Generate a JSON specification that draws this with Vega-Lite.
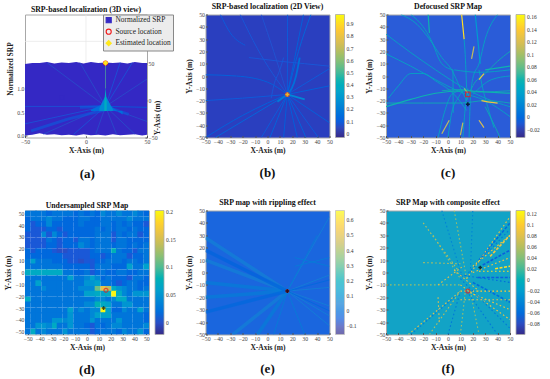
{"$schema":"https://vega.github.io/schema/vega-lite/v6.json","padding":{"left":4,"top":2.5,"right":0,"bottom":0},"background":"white",
"config":{"font":"Liberation Serif","view":{"stroke":"#a8a8a8","strokeWidth":1},
"axis":{"domain":false,"grid":false,"labelFontSize":5.8,"labelColor":"#444","titleFontSize":7.5,"titleFontWeight":"bold","titleColor":"#222","tickColor":"#555","tickSize":-2,"labelPadding":3,"titlePadding":2,"labelOverlap":false,"labelFlush":false},
"legend":{"gradientLength":123,"gradientThickness":9,"padding":0,"offset":6,"labelFontSize":5.5,"labelColor":"#333","gradientStrokeColor":"#aaa","gradientStrokeWidth":0.8,"labelOverlap":false,"labelOffset":2},
"title":{"fontSize":7.8,"fontWeight":"bold","offset":0.5,"color":"#111","anchor":"middle"}},
"datasets":{
"bl":[{"id":1,"v":0.14,"x":-42,"y":-50},{"id":1,"v":0.14,"x":16,"y":-15},{"id":2,"v":0.1,"x":-5,"y":-50},{"id":2,"v":0.1,"x":16,"y":-15},{"id":3,"v":0.13,"x":2,"y":-50},{"id":3,"v":0.13,"x":10,"y":-30},{"id":3,"v":0.13,"x":16,"y":-15},{"id":4,"v":0.11,"x":13,"y":-50},{"id":4,"v":0.11,"x":16,"y":-15},{"id":5,"v":0.11,"x":16,"y":-15},{"id":5,"v":0.11,"x":24,"y":-50},{"id":6,"v":0.13,"x":16,"y":-15},{"id":6,"v":0.13,"x":31,"y":-50},{"id":7,"v":0.1,"x":16,"y":-15},{"id":7,"v":0.1,"x":41,"y":-50},{"id":8,"v":0.12,"x":16,"y":-15},{"id":8,"v":0.12,"x":50,"y":-38},{"id":9,"v":0.12,"x":16,"y":-15},{"id":9,"v":0.12,"x":50,"y":-8},{"id":10,"v":0.1,"x":16,"y":-15},{"id":10,"v":0.1,"x":50,"y":6},{"id":11,"v":0.14,"x":16,"y":-15},{"id":11,"v":0.14,"x":25,"y":20},{"id":11,"v":0.14,"x":35,"y":50},{"id":12,"v":0.12,"x":16,"y":-15},{"id":12,"v":0.12,"x":22,"y":15},{"id":12,"v":0.12,"x":29,"y":50},{"id":13,"v":0.1,"x":16,"y":-15},{"id":13,"v":0.1,"x":16.2,"y":50},{"id":14,"v":0.1,"x":-38,"y":50},{"id":14,"v":0.1,"x":-30,"y":35},{"id":14,"v":0.1,"x":-18,"y":25},{"id":15,"v":0.12,"x":-50,"y":1},{"id":15,"v":0.12,"x":-25,"y":0},{"id":15,"v":0.12,"x":0,"y":-5},{"id":15,"v":0.12,"x":16,"y":-15},{"id":16,"v":0.09,"x":-15,"y":15},{"id":16,"v":0.09,"x":10,"y":12},{"id":16,"v":0.09,"x":30,"y":10},{"id":16,"v":0.09,"x":50,"y":8},{"id":17,"v":0.12,"x":-50,"y":-50},{"id":17,"v":0.12,"x":-20,"y":-32},{"id":17,"v":0.12,"x":0,"y":-22},{"id":17,"v":0.12,"x":16,"y":-15},{"id":18,"v":0.09,"x":3,"y":-18},{"id":18,"v":0.09,"x":5,"y":-8},{"id":18,"v":0.09,"x":10,"y":5},{"id":18,"v":0.09,"x":13,"y":15},{"id":19,"v":0.08,"x":-5,"y":50},{"id":19,"v":0.08,"x":5,"y":20},{"id":19,"v":0.08,"x":16,"y":-15},{"id":20,"v":0.09,"x":-22,"y":50},{"id":20,"v":0.09,"x":-8,"y":22},{"id":20,"v":0.09,"x":16,"y":-15},{"id":21,"v":0.1,"x":-50,"y":-20},{"id":21,"v":0.1,"x":-20,"y":-18},{"id":21,"v":0.1,"x":16,"y":-15},{"id":100,"v":0.24,"x":16,"y":-15},{"id":100,"v":0.24,"x":30,"y":-19},{"id":100,"v":0.2,"x":50,"y":-18},{"id":101,"v":0.2,"x":8,"y":-21},{"id":101,"v":0.2,"x":16,"y":-15},{"id":102,"v":0.16,"x":16,"y":-15},{"id":102,"v":0.16,"x":23,"y":0},{"id":102,"v":0.16,"x":26,"y":15}],
"cl":[{"id":1,"v":0.05,"x":-50,"y":34},{"id":1,"v":0.05,"x":-30,"y":19},{"id":1,"v":0.05,"x":-10,"y":5},{"id":1,"v":0.05,"x":10,"y":-8},{"id":1,"v":0.05,"x":30,"y":-18},{"id":1,"v":0.05,"x":50,"y":-25},{"id":2,"v":0.05,"x":-50,"y":18},{"id":2,"v":0.05,"x":-30,"y":8},{"id":2,"v":0.05,"x":-10,"y":-3},{"id":2,"v":0.05,"x":10,"y":-13},{"id":2,"v":0.05,"x":30,"y":-20},{"id":2,"v":0.05,"x":50,"y":-33},{"id":3,"v":0.05,"x":-48,"y":-18},{"id":3,"v":0.05,"x":-40,"y":-8},{"id":3,"v":0.05,"x":-30,"y":2},{"id":3,"v":0.05,"x":-20,"y":2},{"id":3,"v":0.05,"x":-10,"y":-4},{"id":3,"v":0.05,"x":5,"y":-15},{"id":3,"v":0.05,"x":15,"y":-28},{"id":4,"v":0.05,"x":-38,"y":50},{"id":4,"v":0.05,"x":-25,"y":42},{"id":4,"v":0.05,"x":-15,"y":30},{"id":4,"v":0.05,"x":-5,"y":15},{"id":4,"v":0.05,"x":3,"y":5},{"id":4,"v":0.05,"x":10,"y":-10},{"id":4,"v":0.05,"x":15,"y":-20},{"id":5,"v":0.06,"x":-50,"y":-22},{"id":5,"v":0.06,"x":-20,"y":-22},{"id":5,"v":0.06,"x":10,"y":-22},{"id":5,"v":0.06,"x":30,"y":-20},{"id":5,"v":0.06,"x":50,"y":-22},{"id":6,"v":0.06,"x":-5,"y":-12},{"id":6,"v":0.06,"x":10,"y":-11},{"id":6,"v":0.06,"x":25,"y":-13},{"id":6,"v":0.06,"x":50,"y":-12},{"id":7,"v":0.06,"x":15,"y":-20},{"id":7,"v":0.06,"x":20,"y":-8},{"id":7,"v":0.06,"x":30,"y":2},{"id":7,"v":0.06,"x":40,"y":12},{"id":7,"v":0.06,"x":50,"y":20},{"id":8,"v":0.05,"x":20,"y":-15},{"id":8,"v":0.05,"x":35,"y":-3},{"id":8,"v":0.05,"x":50,"y":0},{"id":9,"v":0.05,"x":5,"y":5},{"id":9,"v":0.05,"x":25,"y":3},{"id":9,"v":0.05,"x":50,"y":5},{"id":10,"v":0.05,"x":13,"y":30},{"id":10,"v":0.05,"x":14,"y":15},{"id":10,"v":0.05,"x":15,"y":-10},{"id":11,"v":0.06,"x":30,"y":-25},{"id":11,"v":0.06,"x":35,"y":-35},{"id":11,"v":0.06,"x":42,"y":-50},{"id":12,"v":0.05,"x":0,"y":-50},{"id":12,"v":0.05,"x":3,"y":-30},{"id":12,"v":0.05,"x":8,"y":-18},{"id":12,"v":0.05,"x":12,"y":-12},{"id":13,"v":0.05,"x":-8,"y":-50},{"id":13,"v":0.05,"x":-3,"y":-30},{"id":13,"v":0.05,"x":3,"y":-15},{"id":13,"v":0.05,"x":10,"y":-12},{"id":14,"v":0.05,"x":12,"y":-50},{"id":14,"v":0.05,"x":14,"y":-25},{"id":14,"v":0.05,"x":16,"y":-10},{"id":15,"v":0.05,"x":17,"y":-50},{"id":15,"v":0.05,"x":18,"y":-20},{"id":15,"v":0.05,"x":20,"y":-2},{"id":15,"v":0.05,"x":25,"y":10},{"id":15,"v":0.05,"x":30,"y":30},{"id":15,"v":0.05,"x":40,"y":50},{"id":16,"v":0.05,"x":-30,"y":50},{"id":16,"v":0.05,"x":-20,"y":40},{"id":16,"v":0.05,"x":-14,"y":30},{"id":16,"v":0.05,"x":-5,"y":10},{"id":16,"v":0.05,"x":4,"y":5},{"id":17,"v":0.05,"x":25,"y":5},{"id":17,"v":0.05,"x":28,"y":-10},{"id":17,"v":0.05,"x":32,"y":-25},{"id":17,"v":0.05,"x":37,"y":-42},{"id":18,"v":0.05,"x":4,"y":5},{"id":18,"v":0.05,"x":4.2,"y":-30},{"id":100,"v":0.15,"x":11,"y":50},{"id":100,"v":0.15,"x":12,"y":40},{"id":100,"v":0.15,"x":13,"y":30},{"id":101,"v":0.11,"x":19,"y":14},{"id":101,"v":0.11,"x":21,"y":24},{"id":102,"v":0.13,"x":25,"y":-3},{"id":102,"v":0.13,"x":29,"y":2},{"id":103,"v":0.13,"x":27,"y":-20},{"id":103,"v":0.13,"x":32,"y":-21},{"id":103,"v":0.13,"x":40,"y":-22},{"id":104,"v":0.11,"x":-5,"y":-47},{"id":104,"v":0.11,"x":1,"y":-36},{"id":105,"v":0.11,"x":10,"y":-48},{"id":105,"v":0.11,"x":12,"y":-38},{"id":106,"v":0.12,"x":25,"y":-36},{"id":106,"v":0.12,"x":29,"y":-42},{"id":107,"v":0.06,"x":-50,"y":-25},{"id":107,"v":0.06,"x":-30,"y":-19},{"id":107,"v":0.06,"x":-10,"y":-14},{"id":107,"v":0.06,"x":15,"y":-12},{"id":107,"v":0.06,"x":30,"y":-13},{"id":107,"v":0.06,"x":50,"y":-14},{"id":108,"v":0.06,"x":-16,"y":50},{"id":108,"v":0.06,"x":-15,"y":35},{"id":109,"v":0.035,"x":22,"y":50},{"id":109,"v":0.035,"x":24,"y":30},{"id":109,"v":0.035,"x":26,"y":10},{"id":110,"v":0.09,"x":13,"y":-10},{"id":110,"v":0.09,"x":16,"y":-14},{"id":111,"v":0.06,"x":30,"y":5},{"id":111,"v":0.06,"x":50,"y":8}],
"el":[{"id":1,"v":0.05,"x":16,"y":-15},{"id":1,"v":0.05,"x":50,"y":45},{"id":2,"v":0.05,"x":16,"y":-15},{"id":2,"v":0.05,"x":50,"y":-2},{"id":3,"v":0.05,"x":16,"y":-15},{"id":3,"v":0.05,"x":50,"y":-27},{"id":4,"v":0.05,"x":16,"y":-15},{"id":4,"v":0.05,"x":50,"y":-35},{"id":5,"v":0.05,"x":16,"y":-15},{"id":5,"v":0.05,"x":50,"y":-43},{"id":6,"v":0.05,"x":16,"y":-15},{"id":6,"v":0.05,"x":50,"y":-12},{"id":7,"v":-0.02,"x":16,"y":-15},{"id":7,"v":-0.02,"x":50,"y":-6},{"id":8,"v":-0.02,"x":16,"y":-15},{"id":8,"v":-0.02,"x":50,"y":-31},{"id":9,"v":0.04,"x":22,"y":12},{"id":9,"v":0.04,"x":50,"y":5},{"id":10,"v":0.04,"x":22,"y":5},{"id":10,"v":0.04,"x":50,"y":12},{"id":11,"v":0.04,"x":16,"y":-15},{"id":11,"v":0.04,"x":40,"y":30},{"id":12,"v":0.04,"x":5,"y":-50},{"id":12,"v":0.04,"x":16,"y":-15},{"id":13,"v":0.04,"x":16,"y":-15},{"id":13,"v":0.04,"x":30,"y":-50},{"id":100,"v":0.05,"x":-50,"y":28},{"id":100,"v":0.05,"x":16,"y":-15},{"id":101,"v":0.05,"x":-50,"y":10},{"id":101,"v":0.05,"x":16,"y":-15},{"id":102,"v":0.04,"x":-50,"y":-8},{"id":102,"v":0.04,"x":16,"y":-15},{"id":103,"v":0.04,"x":-50,"y":-20},{"id":103,"v":0.04,"x":16,"y":-15},{"id":104,"v":0.05,"x":-28,"y":-50},{"id":104,"v":0.05,"x":16,"y":-15},{"id":105,"v":0.04,"x":-8,"y":-50},{"id":105,"v":0.04,"x":16,"y":-15},{"id":106,"v":-0.03,"x":-50,"y":18},{"id":106,"v":-0.03,"x":16,"y":-15},{"id":107,"v":-0.02,"x":-50,"y":-32},{"id":107,"v":-0.02,"x":16,"y":-15}],
"fl":[{"id":1,"v":0.09,"x":15,"y":-5},{"id":1,"v":0.09,"x":50,"y":45},{"id":2,"v":-0.05,"x":12,"y":-5},{"id":2,"v":-0.05,"x":50,"y":35},{"id":3,"v":0.1,"x":20,"y":5},{"id":3,"v":0.1,"x":50,"y":30},{"id":4,"v":0.09,"x":20,"y":0},{"id":4,"v":0.09,"x":50,"y":12},{"id":5,"v":0.11,"x":25,"y":1},{"id":5,"v":0.11,"x":50,"y":1},{"id":6,"v":0.1,"x":10,"y":-15},{"id":6,"v":0.1,"x":50,"y":-15},{"id":7,"v":0.09,"x":15,"y":-15},{"id":7,"v":0.09,"x":50,"y":-30},{"id":8,"v":0.09,"x":10,"y":-10},{"id":8,"v":0.09,"x":50,"y":-38},{"id":9,"v":-0.05,"x":10,"y":-5},{"id":9,"v":-0.05,"x":50,"y":-45},{"id":10,"v":0.08,"x":-32,"y":-50},{"id":10,"v":0.08,"x":10,"y":-15},{"id":11,"v":0.05,"x":-50,"y":-10},{"id":11,"v":0.05,"x":10,"y":-10},{"id":12,"v":0.06,"x":-20,"y":8},{"id":12,"v":0.06,"x":10,"y":7},{"id":13,"v":0.05,"x":-12,"y":30},{"id":13,"v":0.05,"x":10,"y":-5},{"id":14,"v":-0.04,"x":-5,"y":50},{"id":14,"v":-0.04,"x":12,"y":-5},{"id":15,"v":0.05,"x":5,"y":50},{"id":15,"v":0.05,"x":15,"y":-5},{"id":16,"v":-0.04,"x":18,"y":0},{"id":16,"v":-0.04,"x":20,"y":50},{"id":17,"v":-0.05,"x":0,"y":-50},{"id":17,"v":-0.05,"x":10,"y":-15},{"id":18,"v":0.05,"x":10,"y":-50},{"id":18,"v":0.05,"x":14,"y":-15},{"id":19,"v":0.05,"x":18,"y":-15},{"id":19,"v":0.05,"x":25,"y":-50},{"id":20,"v":-0.05,"x":15,"y":-15},{"id":20,"v":-0.05,"x":40,"y":-50},{"id":21,"v":0.06,"x":-15,"y":-50},{"id":21,"v":0.06,"x":10,"y":-15},{"id":22,"v":0.08,"x":10,"y":-22},{"id":22,"v":0.08,"x":50,"y":-22},{"id":23,"v":0.06,"x":-20,"y":40},{"id":23,"v":0.06,"x":8,"y":2},{"id":24,"v":0.08,"x":-8,"y":-20},{"id":24,"v":0.08,"x":-7,"y":-40},{"id":25,"v":-0.05,"x":-30,"y":-50},{"id":25,"v":-0.05,"x":5,"y":-20},{"id":26,"v":-0.06,"x":10,"y":-2},{"id":26,"v":-0.06,"x":50,"y":-8},{"id":27,"v":0.09,"x":5,"y":2},{"id":27,"v":0.09,"x":25,"y":-15},{"id":28,"v":0.08,"x":-8,"y":-10},{"id":28,"v":0.08,"x":12,"y":5},{"id":100,"v":-0.07,"x":28,"y":6},{"id":100,"v":-0.07,"x":50,"y":18},{"id":101,"v":-0.06,"x":25,"y":10},{"id":101,"v":-0.06,"x":50,"y":40},{"id":102,"v":-0.07,"x":24,"y":-4},{"id":102,"v":-0.07,"x":50,"y":-4},{"id":103,"v":-0.06,"x":20,"y":-8},{"id":103,"v":-0.06,"x":50,"y":-24},{"id":104,"v":0.11,"x":38,"y":3},{"id":104,"v":0.11,"x":50,"y":5},{"id":105,"v":0.09,"x":34,"y":13},{"id":105,"v":0.09,"x":50,"y":30}],
"al":[{"id":1,"v":0.12,"x":-50,"y":0.62},{"id":1,"v":0.12,"x":16,"y":0.62},{"id":2,"v":0.12,"x":-50,"y":0.25},{"id":2,"v":0.12,"x":16,"y":0.62},{"id":3,"v":0.1,"x":-32,"y":1.55},{"id":3,"v":0.1,"x":16,"y":0.62},{"id":4,"v":0.1,"x":-5,"y":1.55},{"id":4,"v":0.1,"x":16,"y":0.62},{"id":5,"v":0.12,"x":16,"y":0.62},{"id":5,"v":0.12,"x":28,"y":1.55},{"id":6,"v":0.12,"x":16,"y":0.62},{"id":6,"v":0.12,"x":38,"y":1.55},{"id":7,"v":0.1,"x":16,"y":0.62},{"id":7,"v":0.1,"x":50,"y":1.2},{"id":8,"v":0.14,"x":16,"y":0.62},{"id":8,"v":0.14,"x":50,"y":0.6},{"id":9,"v":0.1,"x":16,"y":0.62},{"id":9,"v":0.1,"x":50,"y":0.3},{"id":10,"v":0.1,"x":16,"y":0.62},{"id":10,"v":0.1,"x":40,"y":0.03},{"id":11,"v":0.1,"x":16,"y":0.62},{"id":11,"v":0.1,"x":25,"y":0.03},{"id":12,"v":0.1,"x":8,"y":0.03},{"id":12,"v":0.1,"x":16,"y":0.62},{"id":13,"v":0.12,"x":-10,"y":0.03},{"id":13,"v":0.12,"x":16,"y":0.62},{"id":14,"v":0.1,"x":-35,"y":0.03},{"id":14,"v":0.1,"x":16,"y":0.62},{"id":100,"v":0.13,"x":-45,"y":0.1},{"id":100,"v":0.13,"x":-15,"y":0.35},{"id":100,"v":0.13,"x":16,"y":0.55},{"id":101,"v":0.13,"x":-5,"y":0.6},{"id":101,"v":0.13,"x":16,"y":0.62},{"id":101,"v":0.13,"x":35,"y":0.45}],
"ap":[{"id":1,"v":0.18,"x":4,"y":0.55},{"id":1,"v":0.18,"x":16,"y":0.7},{"id":1,"v":0.18,"x":30,"y":0.45},{"id":2,"v":0.28,"x":11,"y":0.58},{"id":2,"v":0.28,"x":16,"y":0.85},{"id":2,"v":0.28,"x":22,"y":0.56},{"id":3,"v":0.42,"x":15,"y":0.7},{"id":3,"v":0.42,"x":16,"y":1.02},{"id":3,"v":0.42,"x":17,"y":0.7}],
"aa":[{"x":-50,"t":1.52,"b":0},{"x":-44,"t":1.54,"b":0.02},{"x":-38,"t":1.54,"b":0.05},{"x":-32,"t":1.56,"b":0.02},{"x":-26,"t":1.53,"b":0.03},{"x":-20,"t":1.55,"b":0.01},{"x":-14,"t":1.54,"b":0.02},{"x":-8,"t":1.56,"b":0},{"x":-2,"t":1.53,"b":0.03},{"x":4,"t":1.56,"b":0.01},{"x":10,"t":1.54,"b":0.02},{"x":16,"t":1.55,"b":0},{"x":22,"t":1.54,"b":0.03},{"x":28,"t":1.55,"b":0.01},{"x":34,"t":1.53,"b":0.02},{"x":40,"t":1.56,"b":0.03},{"x":46,"t":1.54,"b":0},{"x":50,"t":1.54,"b":0.02}],
"dc":[
{"x":-50,"y":50,"v":0.025},{"x":-45,"y":50,"v":0.025},{"x":-41,"y":50,"v":0.025},{"x":-36,"y":50,"v":0.025},{"x":-32,"y":50,"v":0.015},{"x":-27,"y":50,"v":0.025},{"x":-23,"y":50,"v":0.025},{"x":-18,"y":50,"v":0.025},{"x":-14,"y":50,"v":0.025},{"x":-9,"y":50,"v":0.015},{"x":-5,"y":50,"v":0.025},{"x":0,"y":50,"v":0.015},{"x":5,"y":50,"v":0.025},{"x":9,"y":50,"v":0.015},{"x":14,"y":50,"v":0.04},{"x":18,"y":50,"v":0.025},{"x":23,"y":50,"v":0.025},{"x":27,"y":50,"v":0.04},{"x":32,"y":50,"v":0.025},{"x":36,"y":50,"v":0.025},{"x":41,"y":50,"v":0.04},{"x":45,"y":50,"v":0.025},{"x":50,"y":50,"v":0.015},
{"x":-50,"y":45,"v":0.015},{"x":-45,"y":45,"v":0.025},{"x":-41,"y":45,"v":0.025},{"x":-36,"y":45,"v":0.025},{"x":-32,"y":45,"v":0.04},{"x":-27,"y":45,"v":0.025},{"x":-23,"y":45,"v":0.025},{"x":-18,"y":45,"v":0.015},{"x":-14,"y":45,"v":0.015},{"x":-9,"y":45,"v":0.015},{"x":-5,"y":45,"v":0.025},{"x":0,"y":45,"v":0.025},{"x":5,"y":45,"v":0.015},{"x":9,"y":45,"v":0.015},{"x":14,"y":45,"v":0.025},{"x":18,"y":45,"v":0.025},{"x":23,"y":45,"v":0.025},{"x":27,"y":45,"v":0.025},{"x":32,"y":45,"v":0.025},{"x":36,"y":45,"v":0.04},{"x":41,"y":45,"v":0.025},{"x":45,"y":45,"v":0.025},{"x":50,"y":45,"v":0.025},
{"x":-50,"y":41,"v":0.015},{"x":-45,"y":41,"v":0.005},{"x":-41,"y":41,"v":0.015},{"x":-36,"y":41,"v":0.015},{"x":-32,"y":41,"v":0.04},{"x":-27,"y":41,"v":0.015},{"x":-23,"y":41,"v":0.015},{"x":-18,"y":41,"v":0.015},{"x":-14,"y":41,"v":0.015},{"x":-9,"y":41,"v":0.015},{"x":-5,"y":41,"v":0.025},{"x":0,"y":41,"v":0.015},{"x":5,"y":41,"v":0.015},{"x":9,"y":41,"v":0.015},{"x":14,"y":41,"v":0.025},{"x":18,"y":41,"v":0.025},{"x":23,"y":41,"v":0.015},{"x":27,"y":41,"v":0.025},{"x":32,"y":41,"v":0.015},{"x":36,"y":41,"v":0.025},{"x":41,"y":41,"v":0.015},{"x":45,"y":41,"v":0.015},{"x":50,"y":41,"v":0.005},
{"x":-50,"y":36,"v":0.015},{"x":-45,"y":36,"v":0.005},{"x":-41,"y":36,"v":0.005},{"x":-36,"y":36,"v":0.005},{"x":-32,"y":36,"v":0.015},{"x":-27,"y":36,"v":0.015},{"x":-23,"y":36,"v":0.005},{"x":-18,"y":36,"v":0.015},{"x":-14,"y":36,"v":0.015},{"x":-9,"y":36,"v":0.015},{"x":-5,"y":36,"v":0.015},{"x":0,"y":36,"v":0.015},{"x":5,"y":36,"v":0.015},{"x":9,"y":36,"v":0.025},{"x":14,"y":36,"v":0.015},{"x":18,"y":36,"v":0.025},{"x":23,"y":36,"v":0.015},{"x":27,"y":36,"v":0.025},{"x":32,"y":36,"v":0.025},{"x":36,"y":36,"v":0.015},{"x":41,"y":36,"v":0.025},{"x":45,"y":36,"v":0.015},{"x":50,"y":36,"v":0.015},
{"x":-50,"y":32,"v":0.005},{"x":-45,"y":32,"v":0.005},{"x":-41,"y":32,"v":0.005},{"x":-36,"y":32,"v":0.04},{"x":-32,"y":32,"v":0.005},{"x":-27,"y":32,"v":0.04},{"x":-23,"y":32,"v":0.015},{"x":-18,"y":32,"v":0.005},{"x":-14,"y":32,"v":0.015},{"x":-9,"y":32,"v":0.015},{"x":-5,"y":32,"v":0.015},{"x":0,"y":32,"v":0.015},{"x":5,"y":32,"v":0.015},{"x":9,"y":32,"v":0.025},{"x":14,"y":32,"v":0.025},{"x":18,"y":32,"v":0.025},{"x":23,"y":32,"v":0.005},{"x":27,"y":32,"v":0.025},{"x":32,"y":32,"v":0.015},{"x":36,"y":32,"v":0.025},{"x":41,"y":32,"v":0.025},{"x":45,"y":32,"v":0.005},{"x":50,"y":32,"v":0.015},
{"x":-50,"y":27,"v":0.005},{"x":-45,"y":27,"v":0.005},{"x":-41,"y":27,"v":0.005},{"x":-36,"y":27,"v":0.005},{"x":-32,"y":27,"v":0.025},{"x":-27,"y":27,"v":0.015},{"x":-23,"y":27,"v":0.005},{"x":-18,"y":27,"v":0.015},{"x":-14,"y":27,"v":0.015},{"x":-9,"y":27,"v":0.005},{"x":-5,"y":27,"v":0.025},{"x":0,"y":27,"v":0.025},{"x":5,"y":27,"v":0.015},{"x":9,"y":27,"v":0.025},{"x":14,"y":27,"v":0.025},{"x":18,"y":27,"v":0.025},{"x":23,"y":27,"v":0.005},{"x":27,"y":27,"v":0.025},{"x":32,"y":27,"v":0.025},{"x":36,"y":27,"v":0.015},{"x":41,"y":27,"v":0.015},{"x":45,"y":27,"v":0.015},{"x":50,"y":27,"v":0.015},
{"x":-50,"y":23,"v":0.005},{"x":-45,"y":23,"v":0.005},{"x":-41,"y":23,"v":0.005},{"x":-36,"y":23,"v":0.005},{"x":-32,"y":23,"v":0.015},{"x":-27,"y":23,"v":0.015},{"x":-23,"y":23,"v":0.005},{"x":-18,"y":23,"v":0.015},{"x":-14,"y":23,"v":0.015},{"x":-9,"y":23,"v":0.015},{"x":-5,"y":23,"v":0.04},{"x":0,"y":23,"v":0.025},{"x":5,"y":23,"v":0.015},{"x":9,"y":23,"v":0.025},{"x":14,"y":23,"v":0.025},{"x":18,"y":23,"v":0.025},{"x":23,"y":23,"v":0.015},{"x":27,"y":23,"v":0.025},{"x":32,"y":23,"v":0.025},{"x":36,"y":23,"v":0.015},{"x":41,"y":23,"v":0.025},{"x":45,"y":23,"v":0.015},{"x":50,"y":23,"v":0.025},
{"x":-50,"y":18,"v":0.015},{"x":-45,"y":18,"v":0.005},{"x":-41,"y":18,"v":0.015},{"x":-36,"y":18,"v":0.015},{"x":-32,"y":18,"v":0.015},{"x":-27,"y":18,"v":0.005},{"x":-23,"y":18,"v":0},{"x":-18,"y":18,"v":0},{"x":-14,"y":18,"v":0.005},{"x":-9,"y":18,"v":0.005},{"x":-5,"y":18,"v":0.005},{"x":0,"y":18,"v":0.005},{"x":5,"y":18,"v":0.015},{"x":9,"y":18,"v":0.025},{"x":14,"y":18,"v":0.025},{"x":18,"y":18,"v":0.025},{"x":23,"y":18,"v":0.08},{"x":27,"y":18,"v":0.025},{"x":32,"y":18,"v":0.015},{"x":36,"y":18,"v":0.015},{"x":41,"y":18,"v":0.005},{"x":45,"y":18,"v":0.025},{"x":50,"y":18,"v":0.025},
{"x":-50,"y":14,"v":0.015},{"x":-45,"y":14,"v":0.015},{"x":-41,"y":14,"v":0.015},{"x":-36,"y":14,"v":0.015},{"x":-32,"y":14,"v":0.015},{"x":-27,"y":14,"v":0.015},{"x":-23,"y":14,"v":0.015},{"x":-18,"y":14,"v":0.005},{"x":-14,"y":14,"v":0.005},{"x":-9,"y":14,"v":0.005},{"x":-5,"y":14,"v":0.005},{"x":0,"y":14,"v":0.005},{"x":5,"y":14,"v":0.015},{"x":9,"y":14,"v":0.015},{"x":14,"y":14,"v":0.005},{"x":18,"y":14,"v":0.015},{"x":23,"y":14,"v":0.025},{"x":27,"y":14,"v":0.025},{"x":32,"y":14,"v":0.025},{"x":36,"y":14,"v":0.005},{"x":41,"y":14,"v":0.015},{"x":45,"y":14,"v":0.015},{"x":50,"y":14,"v":0.025},
{"x":-50,"y":9,"v":0.025},{"x":-45,"y":9,"v":0.06},{"x":-41,"y":9,"v":0.025},{"x":-36,"y":9,"v":0.025},{"x":-32,"y":9,"v":0.025},{"x":-27,"y":9,"v":0.015},{"x":-23,"y":9,"v":0.015},{"x":-18,"y":9,"v":0.015},{"x":-14,"y":9,"v":0.005},{"x":-9,"y":9,"v":0.005},{"x":-5,"y":9,"v":0},{"x":0,"y":9,"v":0.005},{"x":5,"y":9,"v":0.005},{"x":9,"y":9,"v":0.015},{"x":14,"y":9,"v":0.015},{"x":18,"y":9,"v":0.025},{"x":23,"y":9,"v":0.025},{"x":27,"y":9,"v":0.025},{"x":32,"y":9,"v":0.015},{"x":36,"y":9,"v":0.025},{"x":41,"y":9,"v":0.025},{"x":45,"y":9,"v":0.015},{"x":50,"y":9,"v":0.025},
{"x":-50,"y":5,"v":0.025},{"x":-45,"y":5,"v":0.025},{"x":-41,"y":5,"v":0.025},{"x":-36,"y":5,"v":0.025},{"x":-32,"y":5,"v":0.025},{"x":-27,"y":5,"v":0.025},{"x":-23,"y":5,"v":0.025},{"x":-18,"y":5,"v":0.015},{"x":-14,"y":5,"v":0.015},{"x":-9,"y":5,"v":0.015},{"x":-5,"y":5,"v":0.015},{"x":0,"y":5,"v":0.015},{"x":5,"y":5,"v":0.005},{"x":9,"y":5,"v":0.025},{"x":14,"y":5,"v":0.025},{"x":18,"y":5,"v":0.025},{"x":23,"y":5,"v":0.015},{"x":27,"y":5,"v":0.015},{"x":32,"y":5,"v":0.015},{"x":36,"y":5,"v":0.06},{"x":41,"y":5,"v":0.025},{"x":45,"y":5,"v":0.025},{"x":50,"y":5,"v":0.06},
{"x":-50,"y":0,"v":0.07},{"x":-45,"y":0,"v":0.07},{"x":-41,"y":0,"v":0.07},{"x":-36,"y":0,"v":0.07},{"x":-32,"y":0,"v":0.07},{"x":-27,"y":0,"v":0.07},{"x":-23,"y":0,"v":0.07},{"x":-18,"y":0,"v":0.025},{"x":-14,"y":0,"v":0.025},{"x":-9,"y":0,"v":0.015},{"x":-5,"y":0,"v":0.015},{"x":0,"y":0,"v":0.025},{"x":5,"y":0,"v":0.005},{"x":9,"y":0,"v":0.015},{"x":14,"y":0,"v":0.025},{"x":18,"y":0,"v":0.015},{"x":23,"y":0,"v":0.015},{"x":27,"y":0,"v":0.025},{"x":32,"y":0,"v":0.025},{"x":36,"y":0,"v":0.015},{"x":41,"y":0,"v":0.015},{"x":45,"y":0,"v":0.025},{"x":50,"y":0,"v":0.025},
{"x":-50,"y":-5,"v":0.025},{"x":-45,"y":-5,"v":0.025},{"x":-41,"y":-5,"v":0.025},{"x":-36,"y":-5,"v":0.025},{"x":-32,"y":-5,"v":0.025},{"x":-27,"y":-5,"v":0.025},{"x":-23,"y":-5,"v":0.025},{"x":-18,"y":-5,"v":0.025},{"x":-14,"y":-5,"v":0.06},{"x":-9,"y":-5,"v":0.025},{"x":-5,"y":-5,"v":0.025},{"x":0,"y":-5,"v":0.04},{"x":5,"y":-5,"v":0.06},{"x":9,"y":-5,"v":0.04},{"x":14,"y":-5,"v":0.015},{"x":18,"y":-5,"v":0.025},{"x":23,"y":-5,"v":0.015},{"x":27,"y":-5,"v":0.015},{"x":32,"y":-5,"v":0.015},{"x":36,"y":-5,"v":0.005},{"x":41,"y":-5,"v":0.025},{"x":45,"y":-5,"v":0.025},{"x":50,"y":-5,"v":0.015},
{"x":-50,"y":-9,"v":0.025},{"x":-45,"y":-9,"v":0.025},{"x":-41,"y":-9,"v":0.06},{"x":-36,"y":-9,"v":0.025},{"x":-32,"y":-9,"v":0.025},{"x":-27,"y":-9,"v":0.025},{"x":-23,"y":-9,"v":0.025},{"x":-18,"y":-9,"v":0.025},{"x":-14,"y":-9,"v":0.025},{"x":-9,"y":-9,"v":0.025},{"x":-5,"y":-9,"v":0.025},{"x":0,"y":-9,"v":0.05},{"x":5,"y":-9,"v":0.05},{"x":9,"y":-9,"v":0.06},{"x":14,"y":-9,"v":0.025},{"x":18,"y":-9,"v":0.025},{"x":23,"y":-9,"v":0.015},{"x":27,"y":-9,"v":0.005},{"x":32,"y":-9,"v":0.015},{"x":36,"y":-9,"v":0.025},{"x":41,"y":-9,"v":0.025},{"x":45,"y":-9,"v":0.015},{"x":50,"y":-9,"v":0.015},
{"x":-50,"y":-14,"v":0.025},{"x":-45,"y":-14,"v":0.025},{"x":-41,"y":-14,"v":0.025},{"x":-36,"y":-14,"v":0.04},{"x":-32,"y":-14,"v":0.025},{"x":-27,"y":-14,"v":0.025},{"x":-23,"y":-14,"v":0.025},{"x":-18,"y":-14,"v":0.025},{"x":-14,"y":-14,"v":0.025},{"x":-9,"y":-14,"v":0.025},{"x":-5,"y":-14,"v":0.04},{"x":0,"y":-14,"v":0.04},{"x":5,"y":-14,"v":0.04},{"x":9,"y":-14,"v":0.11},{"x":14,"y":-14,"v":0.16},{"x":18,"y":-14,"v":0.14},{"x":23,"y":-14,"v":0.07},{"x":27,"y":-14,"v":0.05},{"x":32,"y":-14,"v":0.04},{"x":36,"y":-14,"v":0.025},{"x":41,"y":-14,"v":0.025},{"x":45,"y":-14,"v":0.015},{"x":50,"y":-14,"v":0.025},
{"x":-50,"y":-18,"v":0.025},{"x":-45,"y":-18,"v":0.025},{"x":-41,"y":-18,"v":0.025},{"x":-36,"y":-18,"v":0.025},{"x":-32,"y":-18,"v":0.025},{"x":-27,"y":-18,"v":0.025},{"x":-23,"y":-18,"v":0.025},{"x":-18,"y":-18,"v":0.025},{"x":-14,"y":-18,"v":0.025},{"x":-9,"y":-18,"v":0.025},{"x":-5,"y":-18,"v":0.025},{"x":0,"y":-18,"v":0.06},{"x":5,"y":-18,"v":0.06},{"x":9,"y":-18,"v":0.07},{"x":14,"y":-18,"v":0.06},{"x":18,"y":-18,"v":0.07},{"x":23,"y":-18,"v":0.2},{"x":27,"y":-18,"v":0.07},{"x":32,"y":-18,"v":0.04},{"x":36,"y":-18,"v":0.025},{"x":41,"y":-18,"v":0.05},{"x":45,"y":-18,"v":0.05},{"x":50,"y":-18,"v":0.05},
{"x":-50,"y":-23,"v":0.07},{"x":-45,"y":-23,"v":0.025},{"x":-41,"y":-23,"v":0.025},{"x":-36,"y":-23,"v":0.025},{"x":-32,"y":-23,"v":0.025},{"x":-27,"y":-23,"v":0.025},{"x":-23,"y":-23,"v":0.025},{"x":-18,"y":-23,"v":0.025},{"x":-14,"y":-23,"v":0.025},{"x":-9,"y":-23,"v":0.025},{"x":-5,"y":-23,"v":0.025},{"x":0,"y":-23,"v":0.025},{"x":5,"y":-23,"v":0.025},{"x":9,"y":-23,"v":0.04},{"x":14,"y":-23,"v":0.04},{"x":18,"y":-23,"v":0.025},{"x":23,"y":-23,"v":0.04},{"x":27,"y":-23,"v":0.07},{"x":32,"y":-23,"v":0.07},{"x":36,"y":-23,"v":0.025},{"x":41,"y":-23,"v":0.025},{"x":45,"y":-23,"v":0.025},{"x":50,"y":-23,"v":0.025},
{"x":-50,"y":-27,"v":0.025},{"x":-45,"y":-27,"v":0.025},{"x":-41,"y":-27,"v":0.025},{"x":-36,"y":-27,"v":0.025},{"x":-32,"y":-27,"v":0.025},{"x":-27,"y":-27,"v":0.025},{"x":-23,"y":-27,"v":0.025},{"x":-18,"y":-27,"v":0.025},{"x":-14,"y":-27,"v":0.025},{"x":-9,"y":-27,"v":0.025},{"x":-5,"y":-27,"v":0.025},{"x":0,"y":-27,"v":0.04},{"x":5,"y":-27,"v":0.04},{"x":9,"y":-27,"v":0.08},{"x":14,"y":-27,"v":0.07},{"x":18,"y":-27,"v":0.06},{"x":23,"y":-27,"v":0.025},{"x":27,"y":-27,"v":0.025},{"x":32,"y":-27,"v":0.05},{"x":36,"y":-27,"v":0.05},{"x":41,"y":-27,"v":0.025},{"x":45,"y":-27,"v":0.025},{"x":50,"y":-27,"v":0.025},
{"x":-50,"y":-32,"v":0.025},{"x":-45,"y":-32,"v":0.025},{"x":-41,"y":-32,"v":0.025},{"x":-36,"y":-32,"v":0.025},{"x":-32,"y":-32,"v":0.025},{"x":-27,"y":-32,"v":0.025},{"x":-23,"y":-32,"v":0.025},{"x":-18,"y":-32,"v":0.025},{"x":-14,"y":-32,"v":0.06},{"x":-9,"y":-32,"v":0.025},{"x":-5,"y":-32,"v":0.04},{"x":0,"y":-32,"v":0.025},{"x":5,"y":-32,"v":0.04},{"x":9,"y":-32,"v":0.04},{"x":14,"y":-32,"v":0.2},{"x":18,"y":-32,"v":0.06},{"x":23,"y":-32,"v":0.015},{"x":27,"y":-32,"v":0.015},{"x":32,"y":-32,"v":0.04},{"x":36,"y":-32,"v":0.025},{"x":41,"y":-32,"v":0.025},{"x":45,"y":-32,"v":0.06},{"x":50,"y":-32,"v":0.025},
{"x":-50,"y":-36,"v":0.025},{"x":-45,"y":-36,"v":0.025},{"x":-41,"y":-36,"v":0.025},{"x":-36,"y":-36,"v":0.025},{"x":-32,"y":-36,"v":0.025},{"x":-27,"y":-36,"v":0.025},{"x":-23,"y":-36,"v":0.025},{"x":-18,"y":-36,"v":0.025},{"x":-14,"y":-36,"v":0.05},{"x":-9,"y":-36,"v":0.025},{"x":-5,"y":-36,"v":0.025},{"x":0,"y":-36,"v":0.025},{"x":5,"y":-36,"v":0.04},{"x":9,"y":-36,"v":0.06},{"x":14,"y":-36,"v":0.06},{"x":18,"y":-36,"v":0.06},{"x":23,"y":-36,"v":0.025},{"x":27,"y":-36,"v":0.025},{"x":32,"y":-36,"v":0.025},{"x":36,"y":-36,"v":0.025},{"x":41,"y":-36,"v":0.025},{"x":45,"y":-36,"v":0.025},{"x":50,"y":-36,"v":0.015},
{"x":-50,"y":-41,"v":0.025},{"x":-45,"y":-41,"v":0.025},{"x":-41,"y":-41,"v":0.025},{"x":-36,"y":-41,"v":0.025},{"x":-32,"y":-41,"v":0.025},{"x":-27,"y":-41,"v":0.05},{"x":-23,"y":-41,"v":0.05},{"x":-18,"y":-41,"v":0.04},{"x":-14,"y":-41,"v":0.05},{"x":-9,"y":-41,"v":0.025},{"x":-5,"y":-41,"v":0.025},{"x":0,"y":-41,"v":0.025},{"x":5,"y":-41,"v":0.05},{"x":9,"y":-41,"v":0.025},{"x":14,"y":-41,"v":0.025},{"x":18,"y":-41,"v":0.025},{"x":23,"y":-41,"v":0.025},{"x":27,"y":-41,"v":0.05},{"x":32,"y":-41,"v":0.025},{"x":36,"y":-41,"v":0.025},{"x":41,"y":-41,"v":0.025},{"x":45,"y":-41,"v":0.025},{"x":50,"y":-41,"v":0.015},
{"x":-50,"y":-45,"v":0.025},{"x":-45,"y":-45,"v":0.025},{"x":-41,"y":-45,"v":0.05},{"x":-36,"y":-45,"v":0.05},{"x":-32,"y":-45,"v":0.04},{"x":-27,"y":-45,"v":0.07},{"x":-23,"y":-45,"v":0.025},{"x":-18,"y":-45,"v":0.025},{"x":-14,"y":-45,"v":0.05},{"x":-9,"y":-45,"v":0.025},{"x":-5,"y":-45,"v":0.025},{"x":0,"y":-45,"v":0.015},{"x":5,"y":-45,"v":0.005},{"x":9,"y":-45,"v":0.025},{"x":14,"y":-45,"v":0.015},{"x":18,"y":-45,"v":0.025},{"x":23,"y":-45,"v":0.04},{"x":27,"y":-45,"v":0.04},{"x":32,"y":-45,"v":0.025},{"x":36,"y":-45,"v":0.025},{"x":41,"y":-45,"v":0.025},{"x":45,"y":-45,"v":0.025},{"x":50,"y":-45,"v":0.04},
{"x":-50,"y":-50,"v":0.025},{"x":-45,"y":-50,"v":0.07},{"x":-41,"y":-50,"v":0.025},{"x":-36,"y":-50,"v":0.04},{"x":-32,"y":-50,"v":0.025},{"x":-27,"y":-50,"v":0.025},{"x":-23,"y":-50,"v":0.025},{"x":-18,"y":-50,"v":0.05},{"x":-14,"y":-50,"v":0.025},{"x":-9,"y":-50,"v":0.025},{"x":-5,"y":-50,"v":0.025},{"x":0,"y":-50,"v":0.025},{"x":5,"y":-50,"v":0.005},{"x":9,"y":-50,"v":0.015},{"x":14,"y":-50,"v":0.025},{"x":18,"y":-50,"v":0.025},{"x":23,"y":-50,"v":0.025},{"x":27,"y":-50,"v":0.015},{"x":32,"y":-50,"v":0.04},{"x":36,"y":-50,"v":0.025},{"x":41,"y":-50,"v":0.025},{"x":45,"y":-50,"v":0.05},{"x":50,"y":-50,"v":0.015}
]},
"columns":3,"align":"all","bounds":"flush","spacing":{"column":56.5,"row":72},
"resolve":{"scale":{"color":"independent"},"legend":{"color":"independent"}},
"concat":[
{"width":122,"height":123,"title":"SRP-based localization (3D view)","view":{"stroke":"#a8a8a8"},"resolve":{"scale":{"y":"independent"}},
"layer":[{"layer":[
{"data":{"values":[{"g":2}]},"mark":{"type":"rule","color":"#e6e6e6","strokeWidth":0.7},"encoding":{"y":{"datum":2,"type":"quantitative","scale":{"domain":[-0.04,2.57],"nice":false,"zero":false},"axis":{"values":[0,0.5,1],"title":"Normalized SRP","titleY":54}}}},
{"data":{"values":[{"g":0}]},"mark":{"type":"rule","color":"#e6e6e6","strokeWidth":0.7},"encoding":{"x":{"datum":0,"type":"quantitative","scale":{"domain":[-50,50],"nice":false,"zero":false},"axis":{"values":[-50,0,50],"title":"X-Axis (m)"}}}},
{"data":{"name":"aa"},"mark":{"type":"area","color":"#3428c4"},"encoding":{"x":{"field":"x","type":"quantitative"},"y":{"field":"t","type":"quantitative"},"y2":{"field":"b"}}},
{"data":{"name":"al"},"transform":[{"filter":"datum.id<100"}],"mark":{"type":"line","strokeWidth":1,"opacity":0.75,"clip":true},"encoding":{"x":{"field":"x","type":"quantitative"},"y":{"field":"y","type":"quantitative"},"detail":{"field":"id"},"color":{"field":"v","type":"quantitative","legend":null,"scale":{"domain":[0,0.125,0.25,0.375,0.5,0.625,0.75,0.875,1],"range":["#352a87","#0f5cdd","#1481d6","#06a4ca","#2eb7a4","#87bf77","#d1bb59","#fec832","#f9fb0e"]}}}},
{"data":{"name":"al"},"transform":[{"filter":"datum.id>=100"}],"mark":{"type":"line","strokeWidth":3,"opacity":0.6},"encoding":{"x":{"field":"x","type":"quantitative"},"y":{"field":"y","type":"quantitative"},"detail":{"field":"id"},"color":{"field":"v","type":"quantitative","legend":null}}},
{"data":{"name":"ap"},"mark":{"type":"area"},"encoding":{"x":{"field":"x","type":"quantitative"},"y":{"field":"y","type":"quantitative"},"y2":{"datum":0.52},"detail":{"field":"id"},"color":{"field":"v","type":"quantitative","legend":null}}},
{"data":{"values":[{"g":1}]},"mark":{"type":"rule","color":"#4a9a9a","strokeWidth":0.8},"encoding":{"x":{"datum":16,"type":"quantitative"},"y":{"datum":1,"type":"quantitative"},"y2":{"datum":1.53}}},
{"data":{"values":[{"k":"Normalized SRP","x":-20,"y":0.8},{"k":"Source location","x":16,"y":1.54},{"k":"Estimated location","x":16,"y":1.54}]},"mark":{"type":"point","strokeWidth":1.1,"size":16,"opacity":1},"encoding":{"x":{"field":"x","type":"quantitative"},"y":{"field":"y","type":"quantitative"},
"fill":{"field":"k","type":"nominal","sort":null,"scale":{"domain":["Normalized SRP","Source location","Estimated location"],"range":["#3428c4","transparent","#ffe81a"]},"legend":{"title":null,"orient":"none","legendX":78,"legendY":0,"fillColor":"#ececec","strokeColor":"#888","padding":2,"labelFontSize":7.4,"labelColor":"#222","rowPadding":0.5,"symbolSize":26,"labelOffset":3,"symbolStrokeWidth":1.1}},
"stroke":{"field":"k","type":"nominal","sort":null,"scale":{"domain":["Normalized SRP","Source location","Estimated location"],"range":["#3428c4","#f01818","#ffe81a"]}},
"shape":{"field":"k","type":"nominal","sort":null,"scale":{"domain":["Normalized SRP","Source location","Estimated location"],"range":["square","circle","diamond"]}}}},
{"data":{"values":[{"t":"(a)"}]},"mark":{"type":"text","fontSize":13,"fontWeight":"bold","color":"#111","clip":false},"encoding":{"x":{"datum":1,"type":"quantitative"},"y":{"datum":-0.81,"type":"quantitative"},"text":{"field":"t"}}}
]},
{"data":{"values":[{"g":0}]},"mark":{"type":"point","opacity":0},"encoding":{"x":{"datum":0,"type":"quantitative"},"y":{"datum":0,"type":"quantitative","scale":{"domain":[-50,116],"nice":false,"zero":false},"axis":{"orient":"right","values":[-50,0,50],"title":"Y-Axis (m)","titleAngle":270,"titleY":103,"titlePadding":4}}}}
]},
{"width":124,"height":123,"title":"SRP-based localization (2D View)","view":{"fill":"#2a3fbf","stroke":"#a8a8a8"},
"encoding":{"x":{"field":"x","type":"quantitative","scale":{"domain":[-50,50],"nice":false,"zero":false},"axis":{"title":"X-Axis (m)","values":[-50,-40,-30,-20,-10,0,10,20,30,40,50]}},"y":{"field":"y","type":"quantitative","scale":{"domain":[-50,50],"nice":false,"zero":false},"axis":{"title":"Y-Axis (m)","values":[-50,-40,-30,-20,-10,0,10,20,30,40,50]}},
"color":{"field":"v","type":"quantitative","scale":{"domain":[-0.03,0.09625,0.2225,0.34875,0.475,0.60125,0.7275,0.85375,0.98],"range":["#352a87","#0f5cdd","#1481d6","#06a4ca","#2eb7a4","#87bf77","#d1bb59","#fec832","#f9fb0e"]},"legend":{"title":null,"format":".1~f","values":[0,0.1,0.2,0.3,0.4,0.5,0.6,0.7,0.8,0.9]}}},
"layer":[
{"data":{"name":"bl"},"transform":[{"filter":"datum.id<100"}],"mark":{"type":"line","interpolate":"monotone","strokeWidth":0.9,"clip":true},"encoding":{"detail":{"field":"id"}}},
{"data":{"name":"bl"},"transform":[{"filter":"datum.id>=100"}],"mark":{"type":"line","interpolate":"monotone","strokeWidth":1.8,"clip":true},"encoding":{"detail":{"field":"id"}}},
{"data":{"values":[{"x":16,"y":-15}]},"mark":{"type":"point","filled":true,"shape":"circle","size":26},"encoding":{"color":{"value":"#f03018"}}},
{"data":{"values":[{"x":16,"y":-15}]},"mark":{"type":"point","filled":true,"shape":"cross","size":16},"encoding":{"color":{"value":"#ffe81a"}}},
{"data":{"values":[{"x":0,"y":-79,"t":"(b)"}]},"mark":{"type":"text","fontSize":13,"fontWeight":"bold","clip":false},"encoding":{"text":{"field":"t"},"color":{"value":"#111"}}}
]},
{"width":124,"height":123,"title":"Defocused SRP Map","view":{"fill":"#2a5cd8","stroke":"#a8a8a8"},
"encoding":{"x":{"field":"x","type":"quantitative","scale":{"domain":[-50,50],"nice":false,"zero":false},"axis":{"title":"X-Axis (m)","values":[-50,-40,-30,-20,-10,0,10,20,30,40,50]}},"y":{"field":"y","type":"quantitative","scale":{"domain":[-50,50],"nice":false,"zero":false},"axis":{"title":"Y-Axis (m)","values":[-50,-40,-30,-20,-10,0,10,20,30,40,50]}},
"color":{"field":"v","type":"quantitative","scale":{"domain":[-0.032,-0.0075,0.017,0.0415,0.066,0.0905,0.115,0.1395,0.164],"range":["#352a87","#0f5cdd","#1481d6","#06a4ca","#2eb7a4","#87bf77","#d1bb59","#fec832","#f9fb0e"]},"legend":{"title":null,"format":".2~f","values":[-0.02,0,0.02,0.04,0.06,0.08,0.1,0.12,0.14,0.16]}}},
"layer":[
{"data":{"name":"cl"},"transform":[{"filter":"datum.id<100"}],"mark":{"type":"line","interpolate":"monotone","strokeWidth":0.8,"clip":true},"encoding":{"detail":{"field":"id"}}},
{"data":{"name":"cl"},"transform":[{"filter":"datum.id>=100"}],"mark":{"type":"line","interpolate":"monotone","strokeWidth":1.2,"clip":true},"encoding":{"detail":{"field":"id"}}},
{"data":{"values":[{"x":16,"y":-15}]},"mark":{"type":"point","filled":false,"shape":"square","size":20,"strokeWidth":1.2},"encoding":{"color":{"value":"#f01818"}}},
{"data":{"values":[{"x":16,"y":-23}]},"mark":{"type":"point","filled":true,"shape":"cross","size":16},"encoding":{"color":{"value":"#000"}}},
{"data":{"values":[{"x":0,"y":-79,"t":"(c)"}]},"mark":{"type":"text","fontSize":13,"fontWeight":"bold","clip":false},"encoding":{"text":{"field":"t"},"color":{"value":"#111"}}}
]},
{"width":124,"height":124,"title":"Undersampled SRP Map",
"encoding":{"x":{"field":"x","type":"quantitative","scale":{"domain":[-52.3,52.3],"nice":false,"zero":false},"axis":{"title":"X-Axis (m)","values":[-50,-40,-30,-20,-10,0,10,20,30,40,50]}},"y":{"field":"y","type":"quantitative","scale":{"domain":[-52.3,52.3],"nice":false,"zero":false},"axis":{"title":"Y-Axis (m)","values":[-50,-40,-30,-20,-10,0,10,20,30,40,50]}},
"color":{"field":"v","type":"quantitative","scale":{"domain":[-0.021,0.0069,0.0348,0.0627,0.0907,0.1186,0.1465,0.1745,0.2024],"range":["#352a87","#0f5cdd","#1481d6","#06a4ca","#2eb7a4","#87bf77","#d1bb59","#fec832","#f9fb0e"]},"legend":{"title":null,"format":".2~f","gradientLength":124,"values":[0,0.05,0.1,0.15,0.2]}}},
"layer":[
{"data":{"name":"dc"},"mark":{"type":"rect","width":6,"height":6,"clip":true}},
{"data":{"values":[{"x":16,"y":-15}]},"mark":{"type":"point","filled":false,"shape":"circle","size":16,"strokeWidth":1.2},"encoding":{"color":{"value":"#f01818"}}},
{"data":{"values":[{"x":14,"y":-30}]},"mark":{"type":"point","filled":true,"shape":"cross","size":14},"encoding":{"color":{"value":"#000"}}},
{"data":{"values":[{"x":0,"y":-82,"t":"(d)"}]},"mark":{"type":"text","fontSize":13,"fontWeight":"bold","clip":false},"encoding":{"text":{"field":"t"},"color":{"value":"#111"}}}
]},
{"width":124,"height":124,"title":"SRP map with rippling effect","view":{"fill":"#1a66de","stroke":"#a8a8a8"},
"encoding":{"x":{"field":"x","type":"quantitative","scale":{"domain":[-50,50],"nice":false,"zero":false},"axis":{"title":"X-Axis (m)","values":[-50,-40,-30,-20,-10,0,10,20,30,40,50]}},"y":{"field":"y","type":"quantitative","scale":{"domain":[-50,50],"nice":false,"zero":false},"axis":{"title":"Y-Axis (m)","values":[-50,-40,-30,-20,-10,0,10,20,30,40,50]}},
"color":{"field":"v","type":"quantitative","scale":{"domain":[-0.153,-0.0509,0.0513,0.1534,0.2555,0.3576,0.4598,0.5619,0.664],"range":["#352a87","#0f5cdd","#1481d6","#06a4ca","#2eb7a4","#87bf77","#d1bb59","#fec832","#f9fb0e"]},"legend":{"title":null,"format":".1~f","gradientLength":124,"values":[-0.1,0,0.1,0.2,0.3,0.4,0.5,0.6]}}},
"layer":[
{"data":{"name":"el"},"transform":[{"filter":"datum.id>=100"}],"mark":{"type":"line","strokeWidth":3.5,"opacity":0.7,"clip":true},"encoding":{"detail":{"field":"id"}}},
{"data":{"name":"el"},"transform":[{"filter":"datum.id<100"}],"mark":{"type":"line","strokeWidth":0.8,"clip":true},"encoding":{"detail":{"field":"id"}}},
{"data":{"values":[{"x":16,"y":-15}]},"mark":{"type":"point","filled":true,"shape":"circle","size":16},"encoding":{"color":{"value":"#e01818"}}},
{"data":{"values":[{"x":16,"y":-15}]},"mark":{"type":"point","filled":true,"shape":"cross","size":14},"encoding":{"color":{"value":"#000"}}},
{"data":{"values":[{"x":0,"y":-78,"t":"(e)"}]},"mark":{"type":"text","fontSize":13,"fontWeight":"bold","clip":false},"encoding":{"text":{"field":"t"},"color":{"value":"#111"}}}
]},
{"width":124,"height":124,"title":"SRP Map with composite effect","view":{"fill":"#12a3c6","stroke":"#a8a8a8"},
"encoding":{"x":{"field":"x","type":"quantitative","scale":{"domain":[-50,50],"nice":false,"zero":false},"axis":{"title":"X-Axis (m)","values":[-50,-40,-30,-20,-10,0,10,20,30,40,50]}},"y":{"field":"y","type":"quantitative","scale":{"domain":[-50,50],"nice":false,"zero":false},"axis":{"title":"Y-Axis (m)","values":[-50,-40,-30,-20,-10,0,10,20,30,40,50]}},
"color":{"field":"v","type":"quantitative","scale":{"domain":[-0.0995,-0.0712,-0.0429,-0.0146,0.0138,0.0421,0.0704,0.0987,0.127],"range":["#352a87","#0f5cdd","#1481d6","#06a4ca","#2eb7a4","#87bf77","#d1bb59","#fec832","#f9fb0e"]},"legend":{"title":null,"format":".2~f","gradientLength":124,"values":[-0.08,-0.06,-0.04,-0.02,0,0.02,0.04,0.06,0.08,0.1,0.12]}}},
"layer":[
{"data":{"name":"fl"},"transform":[{"filter":"datum.id>=100"}],"mark":{"type":"line","strokeWidth":1.6,"strokeDash":[3,1.5],"clip":true},"encoding":{"detail":{"field":"id"}}},
{"data":{"name":"fl"},"transform":[{"filter":"datum.id<100"}],"mark":{"type":"line","strokeWidth":1.1,"strokeDash":[1.6,2.4],"clip":true},"encoding":{"detail":{"field":"id"}}},
{"data":{"values":[{"x":16,"y":-15}]},"mark":{"type":"point","filled":false,"shape":"circle","size":16,"strokeWidth":1.2},"encoding":{"color":{"value":"#f01818"}}},
{"data":{"values":[{"x":26,"y":4}]},"mark":{"type":"point","filled":true,"shape":"cross","size":14},"encoding":{"color":{"value":"#000"}}},
{"data":{"values":[{"x":0,"y":-78,"t":"(f)"}]},"mark":{"type":"text","fontSize":13,"fontWeight":"bold","clip":false},"encoding":{"text":{"field":"t"},"color":{"value":"#111"}}}
]}
]}
